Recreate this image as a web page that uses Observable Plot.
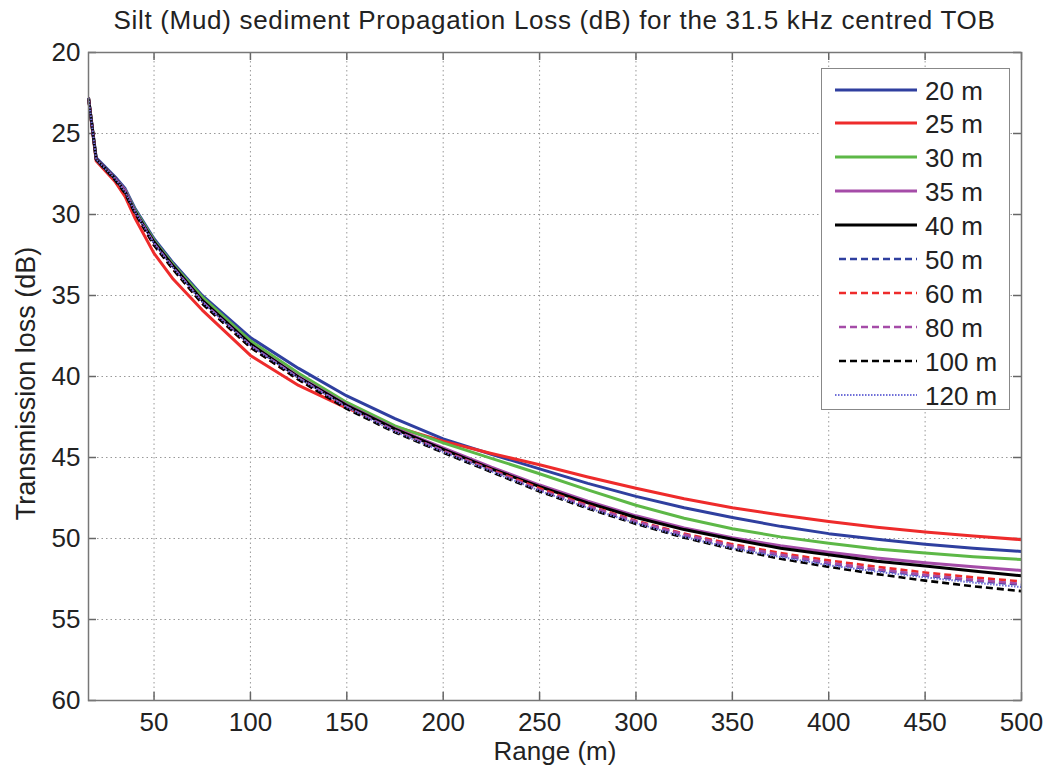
<!DOCTYPE html>
<html>
<head>
<meta charset="utf-8">
<script src="https://cdn.jsdelivr.net/npm/d3@7"></script>
<script src="https://cdn.jsdelivr.net/npm/@observablehq/plot@0.6"></script>
<style>
  html, body { margin: 0; padding: 0; background: #fff; }
  #wrap { position: relative; width: 1051px; height: 776px; font-family: "Liberation Sans", Arial, Helvetica, sans-serif; }
  #title { position: absolute; left: 88px; width: 933px; top: 5px; line-height: 30px; text-align: center; font-size: 26px; letter-spacing: 0.68px; color: #222; }
  #legend { position: absolute; left: 821px; top: 68px; width: 189px; height: 342px; border: 1.5px solid #888; background: #fff; box-sizing: border-box; }
  .row { position: absolute; left: 0; height: 34px; width: 100%; }
  .row svg { position: absolute; left: 13px; top: 0; }
  .row span { position: absolute; left: 103px; top: 1px; line-height: 34px; font-size: 26px; color: #222; }
</style>
</head>
<body>
<div id="wrap">
  <div id="chart"></div>
  <div id="title">Silt (Mud) sediment Propagation Loss (dB) for the 31.5 kHz centred TOB</div>
  <div id="legend"></div>
</div>
<script>
// Range values (m)
const ranges = [16, 20, 30, 35, 40, 50, 60, 75, 100, 125, 150, 175, 200, 225, 250, 275, 300, 325, 350, 375, 400, 425, 450, 475, 500];

// Series: transmission loss (dB) per depth
const loss20  = [22.8, 26.5, 27.7, 28.4, 29.6, 31.5, 33.0, 35.0, 37.6, 39.5, 41.2, 42.6, 43.85, 44.8, 45.7, 46.6, 47.4, 48.1, 48.7, 49.25, 49.7, 50.05, 50.35, 50.6, 50.8];
const loss25  = [22.8, 26.7, 28.0, 28.9, 30.2, 32.4, 34.0, 35.9, 38.7, 40.55, 41.95, 43.1, 44.0, 44.75, 45.45, 46.2, 46.9, 47.55, 48.1, 48.55, 48.95, 49.3, 49.6, 49.85, 50.07];
const loss30  = [22.8, 26.6, 27.8, 28.5, 29.7, 31.6, 33.1, 35.1, 37.8, 39.8, 41.6, 43.05, 44.1, 45.05, 46.0, 47.0, 47.95, 48.75, 49.4, 49.9, 50.3, 50.65, 50.9, 51.12, 51.3];
const loss35  = [22.8, 26.6, 27.8, 28.5, 29.8, 31.7, 33.2, 35.3, 38.0, 40.0, 41.75, 43.2, 44.4, 45.6, 46.7, 47.7, 48.6, 49.35, 49.95, 50.45, 50.85, 51.2, 51.5, 51.75, 51.97];
const loss40  = [22.8, 26.6, 27.8, 28.6, 29.8, 31.7, 33.2, 35.3, 38.0, 40.05, 41.8, 43.25, 44.5, 45.7, 46.8, 47.8, 48.7, 49.45, 50.05, 50.6, 51.0, 51.4, 51.7, 52.0, 52.3];
const loss50  = [22.8, 26.6, 27.9, 28.6, 29.8, 31.8, 33.3, 35.4, 38.1, 40.1, 41.9, 43.35, 44.6, 45.8, 47.0, 48.05, 49.0, 49.8, 50.5, 51.05, 51.55, 51.95, 52.3, 52.6, 52.85];
const loss60  = [22.8, 26.6, 27.9, 28.6, 29.9, 31.9, 33.4, 35.5, 38.2, 40.2, 41.95, 43.4, 44.6, 45.75, 46.9, 47.95, 48.9, 49.7, 50.35, 50.9, 51.35, 51.75, 52.1, 52.4, 52.65];
const loss80  = [22.8, 26.6, 27.8, 28.6, 29.8, 31.8, 33.3, 35.4, 38.1, 40.1, 41.9, 43.35, 44.6, 45.8, 47.0, 48.0, 48.95, 49.75, 50.45, 51.0, 51.5, 51.9, 52.25, 52.55, 52.8];
const loss100 = [22.8, 26.6, 27.9, 28.7, 29.9, 31.9, 33.4, 35.5, 38.2, 40.2, 42.0, 43.45, 44.7, 45.9, 47.1, 48.15, 49.1, 49.95, 50.65, 51.25, 51.75, 52.2, 52.6, 52.95, 53.25];
const loss120 = [22.8, 26.6, 27.8, 28.6, 29.8, 31.8, 33.3, 35.4, 38.1, 40.1, 41.9, 43.4, 44.65, 45.85, 47.05, 48.1, 49.05, 49.9, 50.6, 51.15, 51.65, 52.05, 52.4, 52.72, 53.0];

const depthLabels = ["20 m", "25 m", "30 m", "35 m", "40 m", "50 m", "60 m", "80 m", "100 m", "120 m"];
const seriesValues = [loss20, loss25, loss30, loss35, loss40, loss50, loss60, loss80, loss100, loss120];
const seriesColors = ["#2f3f9f", "#ee2b2b", "#5db847", "#a54ca8", "#000000", "#2f3f9f", "#ee2b2b", "#a54ca8", "#000000", "#6f6fd8"];
const seriesDash   = ["none", "none", "none", "none", "none", "7,4", "7,4", "7,4", "7,4", "1.5,1.5"];
const seriesWidth  = [3, 3, 3, 3, 3, 2.6, 2.6, 2.6, 2.6, 2];

const xTicks = [50, 100, 150, 200, 250, 300, 350, 400, 450, 500];
const yTicks = [20, 25, 30, 35, 40, 45, 50, 55, 60];
const xLabel = "Range (m)";
const yLabel = "Transmission loss (dB)";

const W = 1051, H = 776, ML = 88, MR = 30, MT = 52, MB = 76;
const PW = W - ML - MR, PH = H - MT - MB;
const tickLen = 8;

const lineMarks = seriesValues.map((vals, k) =>
  Plot.line(ranges.map((r, i) => ({r, v: vals[i]})), {
    x: "r", y: "v",
    stroke: seriesColors[k],
    strokeWidth: seriesWidth[k],
    strokeDasharray: seriesDash[k] === "none" ? null : seriesDash[k],
    strokeLinejoin: "round",
    strokeLinecap: "butt"
  })
);

const chart = Plot.plot({
  width: W, height: H,
  marginLeft: ML, marginRight: MR, marginTop: MT, marginBottom: MB,
  style: {fontFamily: '"Liberation Sans", Arial, Helvetica, sans-serif', fontSize: "26px", color: "#222", background: "#fff"},
  x: {domain: [16, 500], ticks: xTicks, tickSize: 0, tickPadding: 12, label: null, tickFormat: d => String(d)},
  y: {domain: [20, 60], reverse: true, ticks: yTicks, tickSize: 0, tickPadding: 8, label: null, tickFormat: d => String(d)},
  marks: [
    Plot.ruleX(xTicks, {stroke: "#999", strokeWidth: 1, strokeDasharray: "1.5,3"}),
    Plot.ruleY(yTicks.slice(1, -1), {stroke: "#999", strokeWidth: 1, strokeDasharray: "1.5,3"}),
    // inward tick marks on all four sides
    Plot.tickY(yTicks, {y: d => d, stroke: "#666", strokeWidth: 1.5, insetRight: PW - tickLen}),
    Plot.tickY(yTicks, {y: d => d, stroke: "#666", strokeWidth: 1.5, insetLeft: PW - tickLen}),
    Plot.tickX(xTicks, {x: d => d, stroke: "#666", strokeWidth: 1.5, insetTop: PH - tickLen}),
    Plot.tickX(xTicks, {x: d => d, stroke: "#666", strokeWidth: 1.5, insetBottom: PH - tickLen}),
    ...lineMarks,
    Plot.frame({stroke: "#777", strokeWidth: 1.5}),
    Plot.text([xLabel], {frameAnchor: "bottom", textAnchor: "middle", dy: 59, fontSize: 26, fill: "#222"}),
    Plot.text([yLabel], {frameAnchor: "left", textAnchor: "middle", dx: -62, dy: 7, rotate: -90, fontSize: 27, fill: "#222"})
  ]
});
document.getElementById("chart").appendChild(chart);

// Legend
const legend = document.getElementById("legend");
depthLabels.forEach((lab, k) => {
  const row = document.createElement("div");
  row.className = "row";
  row.style.top = (3.5 + k * 33.9) + "px";
  const dash = seriesDash[k] === "none" ? "" : `stroke-dasharray="${seriesDash[k]}"`;
  const x1 = seriesDash[k] === "7,4" ? 4 : 0;
  row.innerHTML = `<svg width="84" height="34"><line x1="${x1}" x2="82" y1="17" y2="17" stroke="${seriesColors[k]}" stroke-width="${seriesWidth[k]}" ${dash}/></svg><span>${lab}</span>`;
  legend.appendChild(row);
});
</script>
</body>
</html>
